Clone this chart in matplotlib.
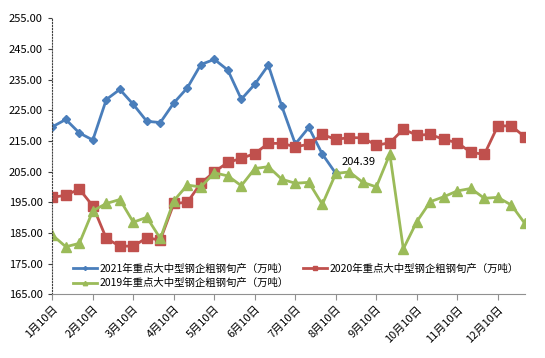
import matplotlib
matplotlib.use("Agg")
import matplotlib.pyplot as plt
import numpy as np

plt.rcParams["font.family"] = ["Noto Sans CJK SC", "DejaVu Sans"]

# dekad values (3 per month, 10th/20th/30th)
months = [f"{m}月10日" for m in range(1, 13)]

y2021 = [219.6, 222.0, 217.6, 215.3, 228.5, 231.8, 226.9, 221.4, 221.0, 227.4,
         232.3, 239.9, 241.6, 238.1, 228.6, 233.5, 239.7, 226.3, 214.0, 219.4,
         210.7, 204.39]
y2020 = [196.6, 197.3, 199.3, 193.8, 183.2, 180.7, 180.7, 183.4, 182.7, 194.6,
         195.0, 201.2, 204.9, 208.0, 209.3, 210.9, 214.2, 214.2, 213.1, 213.9,
         217.1, 215.5, 216.1, 216.0, 213.6, 214.4, 218.8, 216.9, 217.1, 215.5,
         214.4, 211.3, 210.6, 219.9, 219.9, 216.3]
y2019 = [184.3, 180.5, 181.6, 192.2, 194.6, 195.9, 188.5, 190.1, 183.2, 195.5,
         200.6, 200.0, 204.6, 203.6, 200.4, 206.0, 206.6, 202.5, 201.2, 201.5,
         194.3, 204.4, 204.9, 201.5, 200.0, 210.7, 179.8, 188.7, 195.2, 196.8,
         198.7, 199.5, 196.3, 196.6, 194.1, 188.1]

labels = {
    "2021": "2021年重点大中型钢企粗钢旬产（万吨）",
    "2020": "2020年重点大中型钢企粗钢旬产（万吨）",
    "2019": "2019年重点大中型钢企粗钢旬产（万吨）",
}

fig = plt.figure(figsize=(5.45, 3.58), dpi=100)
ax = fig.add_axes([0.096, 0.178, 0.867, 0.771])

l21, = ax.plot(np.arange(len(y2021)), y2021, color="#4A7EBB", lw=2.0,
               marker="D", ms=4.5, label=labels["2021"])
l20, = ax.plot(np.arange(len(y2020)), y2020, color="#C0504D", lw=2.0,
               marker="s", ms=6.5, label=labels["2020"])
l19, = ax.plot(np.arange(len(y2019)), y2019, color="#9BBB59", lw=2.0,
               marker="^", ms=7, label=labels["2019"])

last = len(y2021) - 1
ax.annotate(f"{y2021[-1]:.2f}", (last, y2021[-1]), xytext=(4, 8),
            textcoords="offset points", ha="left", va="center", fontsize=8)

ax.set_xlim(0, 35)
ax.set_ylim(165, 255)
ax.set_yticks(np.arange(165, 256, 10))
ax.set_yticklabels([f"{v:.2f}" for v in np.arange(165, 256, 10)], fontsize=8)
ax.set_xticks(np.arange(0, 36, 3))
ax.set_xticklabels(months, rotation=45, ha="right", rotation_mode="anchor",
                   fontsize=8)

for s in ("top", "right"):
    ax.spines[s].set_visible(False)
ax.spines["left"].set_linestyle(":")
ax.spines["left"].set_color("#404040")
ax.spines["bottom"].set_color("#909090")
ax.tick_params(axis="y", length=3, color="#404040", pad=4)
ax.tick_params(axis="x", length=4, color="#909090", pad=3)

fig.legend(handles=[l21, l19, l20], ncol=2, frameon=False, fontsize=7.5,
           loc="lower left", bbox_to_anchor=(0.125, 0.18), markerscale=0.45,
           handlelength=2.3, handletextpad=0.2, columnspacing=1.4,
           labelspacing=0.4, borderpad=0)

fig.savefig("out.png", dpi=100)
